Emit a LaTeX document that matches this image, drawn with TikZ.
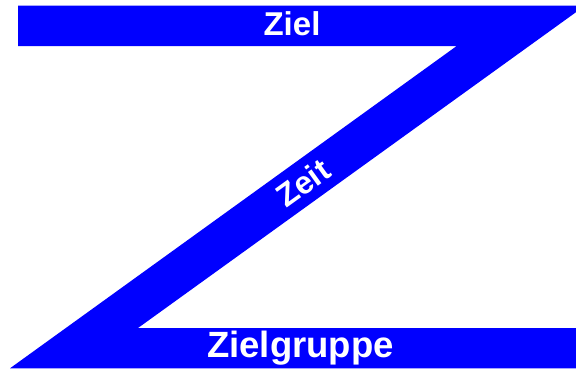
\documentclass[tikz,border=0pt]{standalone}
\usepackage{fontspec}
\setmainfont{Liberation Sans}
\definecolor{zblue}{RGB}{0,0,255}
\begin{document}
\begin{tikzpicture}[x=1pt,y=-1pt,
  lbl/.style={text=white,inner sep=0pt,anchor=base}]
\useasboundingbox (0,0) rectangle (576,373);
\fill[zblue] (18,5.5) -- (576,5.5) -- (576,12.2) -- (138,328) -- (576,328)
  -- (576,368.3) -- (10,368.3) -- (456.7,46) -- (18,46) -- cycle;
\node[lbl,font=\fontsize{33}{33}\bfseries] (ziel) at (292,35.7) {Ziel};
\node[lbl,font=\fontsize{36.5}{36.5}\bfseries] (gruppe) at (300.5,357.7) {Zielgruppe};
\node[text=white,inner sep=0pt,rotate=35.8,font=\fontsize{32}{32}\bfseries] (zeit) at (303,183) {Zeit};
\end{tikzpicture}
\end{document}
